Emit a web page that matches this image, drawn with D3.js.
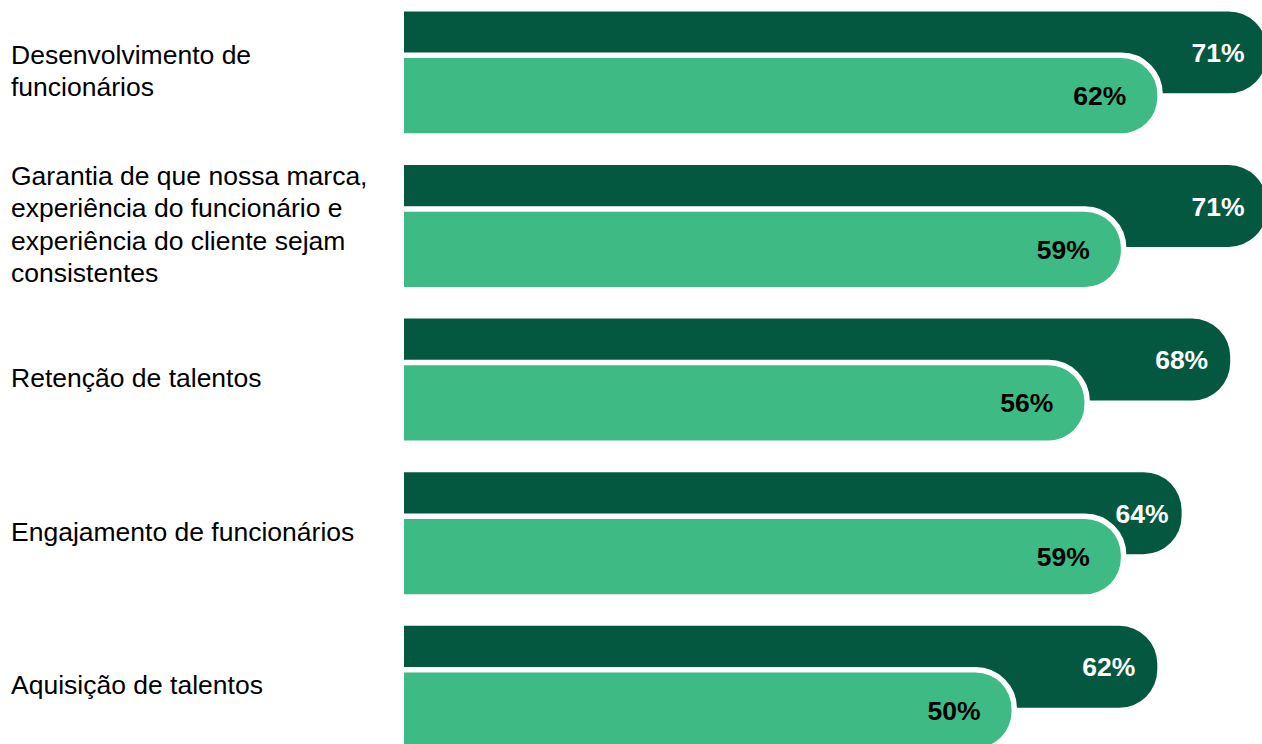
<!DOCTYPE html>
<html>
<head>
<meta charset="utf-8">
<script src="https://cdn.jsdelivr.net/npm/d3@7"></script>
<style>
  html, body { margin: 0; padding: 0; background: #ffffff; overflow: hidden; }
  svg { display: block; }
</style>
</head>
<body>
<svg id="chart" width="1262" height="744"></svg>
<script>
// Categories, top to bottom
const categories = [
  "Desenvolvimento de funcionários",
  "Garantia de que nossa marca, experiência do funcionário e experiência do cliente sejam consistentes",
  "Retenção de talentos",
  "Engajamento de funcionários",
  "Aquisição de talentos"
];

// Back (dark) series and front (light) series, in percent
const valuesBack  = [71, 71, 68, 64, 62];
const valuesFront = [62, 59, 56, 59, 50];

const rows = categories.map((c, i) => ({ category: c, back: valuesBack[i], front: valuesFront[i] }));

const FONT = "'Liberation Sans', Arial, Helvetica, sans-serif";
const DARK = "#04583f";
const LIGHT = "#3eba84";

const svg = d3.select("#chart");

// Horizontal value scale: percent -> pixels (bars run past the right edge)
const x = d3.scaleLinear().domain([0, 100]).range([404, 1619]);

// One band per category holds the pair of overlapping bars
const y = d3.scaleBand()
  .domain(categories)
  .range([11.4, 747.8])
  .paddingInner(0.206)
  .paddingOuter(0);

const bw = y.bandwidth();
const backH = bw * 0.672;
const frontTop = bw * 0.383;
const frontH = bw - frontTop;

// Rectangle with square left corners and rounded right end
function pill(x0, x1, top, h, r) {
  const w = x1 - x0;
  r = Math.min(r, h / 2, w);
  return `M${x0},${top}H${x1 - r}A${r},${r} 0 0 1 ${x1},${top + r}` +
         `V${top + h - r}A${r},${r} 0 0 1 ${x1 - r},${top + h}H${x0}Z`;
}

const g = svg.selectAll("g.row")
  .data(rows)
  .join("g")
  .attr("class", "row");

// Dark bar
g.append("path")
  .attr("fill", DARK)
  .attr("d", d => pill(x(0), x(d.back), y(d.category), backH, 38));

// Light bar with a white halo where it sits over the dark bar
g.append("path")
  .attr("fill", LIGHT)
  .attr("stroke", "#ffffff")
  .attr("stroke-width", 11)
  .attr("paint-order", "stroke")
  .attr("d", d => pill(x(0), x(d.front), y(d.category) + frontTop, frontH, 36));

// Dark bar value labels (pulled toward the end when the light bar comes close)
g.append("text")
  .attr("x", d => x(d.back) - ((x(d.back) - x(d.front)) < 70 ? 13 : 22))
  .attr("y", d => y(d.category) + backH / 2)
  .attr("dy", "0.36em")
  .attr("text-anchor", "end")
  .attr("fill", "#ffffff")
  .style("font", `bold 26.5px ${FONT}`)
  .text(d => d.back + "%");

// Light bar value labels
g.append("text")
  .attr("x", d => x(d.front) - 31)
  .attr("y", d => y(d.category) + frontTop + frontH / 2)
  .attr("dy", "0.36em")
  .attr("text-anchor", "end")
  .attr("fill", "#000000")
  .style("font", `bold 26.5px ${FONT}`)
  .text(d => d.front + "%");

// Category labels, wrapped to fit left of the bars
const LABEL_X = 11, LABEL_MAX = 368, LINE_H = 32.5, CAP = 19;
const measure = svg.append("text").style("font", `26.5px ${FONT}`).attr("visibility", "hidden");
function wrap(str) {
  const words = str.split(" ");
  const lines = [];
  let cur = "";
  for (const w of words) {
    const test = cur ? cur + " " + w : w;
    measure.text(test);
    if (cur && measure.node().getComputedTextLength() > LABEL_MAX) {
      lines.push(cur);
      cur = w;
    } else {
      cur = test;
    }
  }
  if (cur) lines.push(cur);
  return lines;
}

g.each(function (d) {
  const lines = wrap(d.category);
  const center = y(d.category) + bw / 2 - 2;
  const first = center - ((lines.length - 1) * LINE_H - CAP) / 2;
  const t = d3.select(this).append("text")
    .attr("fill", "#000000")
    .style("font", `26.5px ${FONT}`);
  t.selectAll("tspan")
    .data(lines)
    .join("tspan")
    .attr("x", LABEL_X)
    .attr("y", (l, i) => first + i * LINE_H)
    .text(l => l);
});
measure.remove();
</script>
</body>
</html>
